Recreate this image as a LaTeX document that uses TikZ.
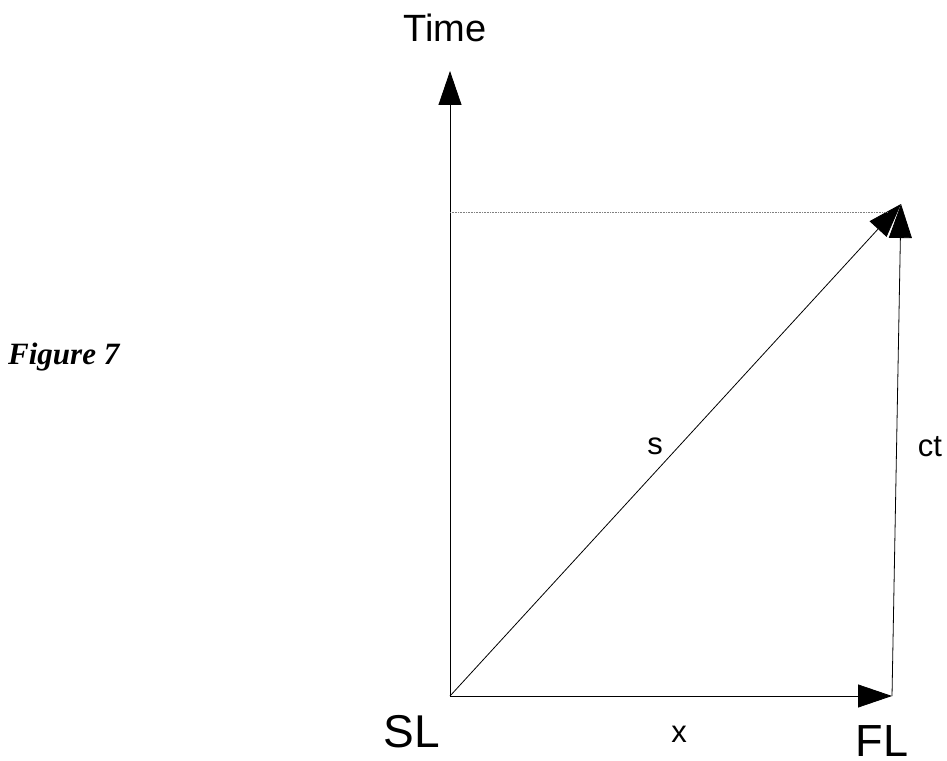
\documentclass[tikz,border=0pt]{standalone}
\usepackage{fontspec}
\setmainfont{Liberation Sans}
\newfontfamily\figfont{Liberation Serif}
\usetikzlibrary{arrows.meta}
\begin{document}
\begin{tikzpicture}[x=1pt,y=1pt,
  vec/.style={line width=0.8pt,-{Triangle[length=34pt,width=23pt]}},
  lbl/.style={inner sep=0pt,anchor=base}]
\useasboundingbox (0,0) rectangle (947,760);
\coordinate (O) at (450,64);
\coordinate (T) at (450,689);
\coordinate (F) at (892,64);
\coordinate (P) at (901,556);
\coordinate (D1) at (450,548);
\coordinate (D2) at (888,548);
\draw[vec] (O) -- (T);
\draw[vec] (O) -- (F);
\draw[vec] (O) -- (P);
\draw[vec] (F) -- (P);
\draw[densely dotted,line width=0.6pt,gray] (D1) -- (D2);
\node[lbl] (time) at (445,718) {\fontsize{38}{40}\selectfont Time};
\node[lbl] (sl) at (412,13) {\fontsize{46}{48}\selectfont SL};
\node[lbl] (fl) at (882,4) {\fontsize{45}{47}\selectfont FL};
\node[lbl] (xl) at (679,18) {\fontsize{31}{33}\selectfont x};
\node[lbl] (ct) at (930,303) {\fontsize{31}{33}\selectfont ct};
\node[lbl] (s) at (655,305) {\fontsize{31}{33}\selectfont s};
\node[inner sep=0pt,anchor=base west] (fig) at (8,395) {\figfont\fontsize{31}{33}\selectfont\bfseries\itshape Figure 7};
\end{tikzpicture}
\end{document}
